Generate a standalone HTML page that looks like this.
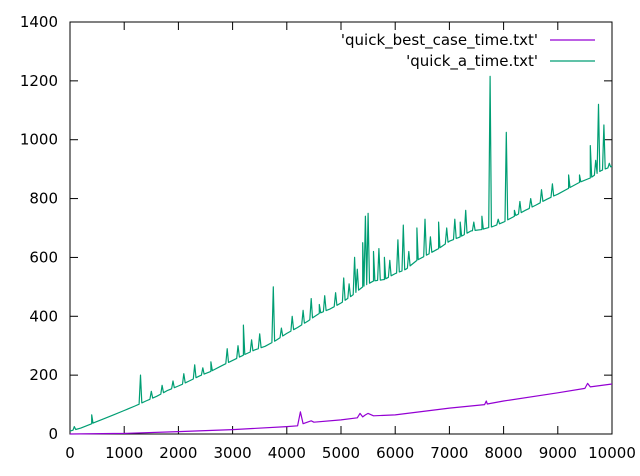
<!DOCTYPE html>
<html><head><meta charset="utf-8">
<style>
html,body{margin:0;padding:0;background:#fff;}
svg{display:block;font-family:"DejaVu Sans","Liberation Sans",sans-serif;}
</style></head>
<body>
<svg id="chart" width="640" height="476" viewBox="0 0 640 476">
<g id="axes"></g>
<g id="series"></g>
<g id="legend">
  <text x="538" y="45" text-anchor="end" font-size="15" fill="#000">'quick_best_case_time.txt'</text>
  <line x1="550" y1="40" x2="595" y2="40" stroke="#9400d3" stroke-width="1.3"/>
  <text x="538" y="66" text-anchor="end" font-size="15" fill="#000">'quick_a_time.txt'</text>
  <line x1="550" y1="61" x2="595" y2="61" stroke="#009e73" stroke-width="1.3"/>
</g>
</svg>
<script>
const xTicks=[0,1000,2000,3000,4000,5000,6000,7000,8000,9000,10000];
const yTicks=[0,200,400,600,800,1000,1200,1400];
const greenX=[0,200,400,600,800,1000,1200,1400,1600,1800,2000,2200,2400,2600,2800,3000,3200,3400,3600,3800,4000,4200,4400,4600,4800,5000,5200,5400,5600,5800,6000,6200,6400,6600,6800,7000,7200,7400,7600,7800,8000,8200,8400,8600,8800,9000,9200,9400,9600,9800,10000];
const greenY=[10,20,35,50,65,80,95,112,128,148,163,180,198,213,232,250,268,285,298,318,342,362,385,410,425,445,470,500,520,525,545,560,590,610,630,655,670,690,695,705,720,740,760,778,798,815,835,855,870,895,910];
const greenSpikeX=[80,400,1300,1500,1700,1900,2100,2300,2450,2600,2900,3100,3200,3350,3500,3750,3900,4100,4300,4450,4600,4700,4900,5050,5150,5250,5300,5400,5450,5500,5600,5700,5800,5900,6050,6150,6250,6400,6550,6650,6800,6950,7100,7200,7300,7450,7600,7750,7900,8050,8200,8300,8500,8700,8900,9200,9400,9600,9700,9750,9850,9950];
const greenSpikeY=[25,65,200,145,165,180,205,235,225,245,290,300,370,320,340,500,360,400,420,460,440,470,480,530,510,600,560,650,740,750,620,630,600,590,660,710,620,700,730,670,720,700,730,720,760,720,740,1215,730,1025,760,790,800,830,850,880,880,980,930,1120,1050,920];
const purpleX=[0,1000,2000,3000,4000,4200,4250,4300,4450,4500,5000,5300,5350,5400,5450,5500,5600,6000,7000,7650,7680,7700,8000,9000,9500,9550,9600,10000];
const purpleY=[0,2,8,15,25,28,75,35,45,40,48,55,70,58,65,70,62,65,88,100,112,102,112,140,155,172,160,170];

const X0=70,X1=612,Y0=434,Y1=22,XMAX=10000,YMAX=1400;
function sx(v){return X0+(X1-X0)*v/XMAX;}
function sy(v){return Y0-(Y0-Y1)*v/YMAX;}
const NS="http://www.w3.org/2000/svg";
const axes=document.getElementById('axes');
const series=document.getElementById('series');
function mk(tag,attrs,parent){const e=document.createElementNS(NS,tag);for(const k in attrs)e.setAttribute(k,attrs[k]);parent.appendChild(e);return e;}

const frame=mk('rect',{x:X0,y:Y1,width:X1-X0,height:Y0-Y1,fill:'none',stroke:'#000','stroke-width':1},axes);


xTicks.forEach(t=>{
  const x=sx(t);
  const a=mk('line',{x1:x,y1:Y0,x2:x,y2:Y0-8,stroke:'#000'},axes);
  
  
  const b=mk('line',{x1:x,y1:Y1,x2:x,y2:Y1+8,stroke:'#000'},axes);
  
  
  const l=mk('text',{x:x,y:Y0+24,'text-anchor':'middle','font-size':15,fill:'#000'},axes);
  l.textContent=t;
  
  
});
yTicks.forEach(t=>{
  const y=sy(t);
  const a=mk('line',{x1:X0,y1:y,x2:X0+8,y2:y,stroke:'#000'},axes);
  
  
  const b=mk('line',{x1:X1,y1:y,x2:X1-8,y2:y,stroke:'#000'},axes);
  
  
  const l=mk('text',{x:X0-12,y:y+5,'text-anchor':'end','font-size':15,fill:'#000'},axes);
  l.textContent=t;
  
  
});
function baseAt(xs,ys,x){
  for(let i=1;i<xs.length;i++){if(x<=xs[i]){const f=(x-xs[i-1])/(xs[i]-xs[i-1]);return ys[i-1]+f*(ys[i]-ys[i-1]);}}
  return ys[ys.length-1];
}
function line(pts,color,name){
  const p=mk('polyline',{points:pts.map(d=>sx(d[0]).toFixed(1)+','+sy(d[1]).toFixed(1)).join(' '),fill:'none',stroke:color,'stroke-width':1.2,'stroke-linejoin':'round'},series);
  
  
}
line(purpleX.map((x,i)=>[x,purpleY[i]]),'#9400d3','series-best-case-line');
// green: base trend plus narrow spikes
const pts=[];
greenX.forEach((x,i)=>pts.push([x,greenY[i]]));
greenSpikeX.forEach((x,i)=>{
  pts.push([x-25,baseAt(greenX,greenY,x-25)]);
  pts.push([x,greenSpikeY[i]]);
  pts.push([x+25,baseAt(greenX,greenY,x+25)]);
});
pts.sort((a,b)=>a[0]-b[0]);
line(pts,'#009e73','series-a-time-line');
</script>
</body></html>
